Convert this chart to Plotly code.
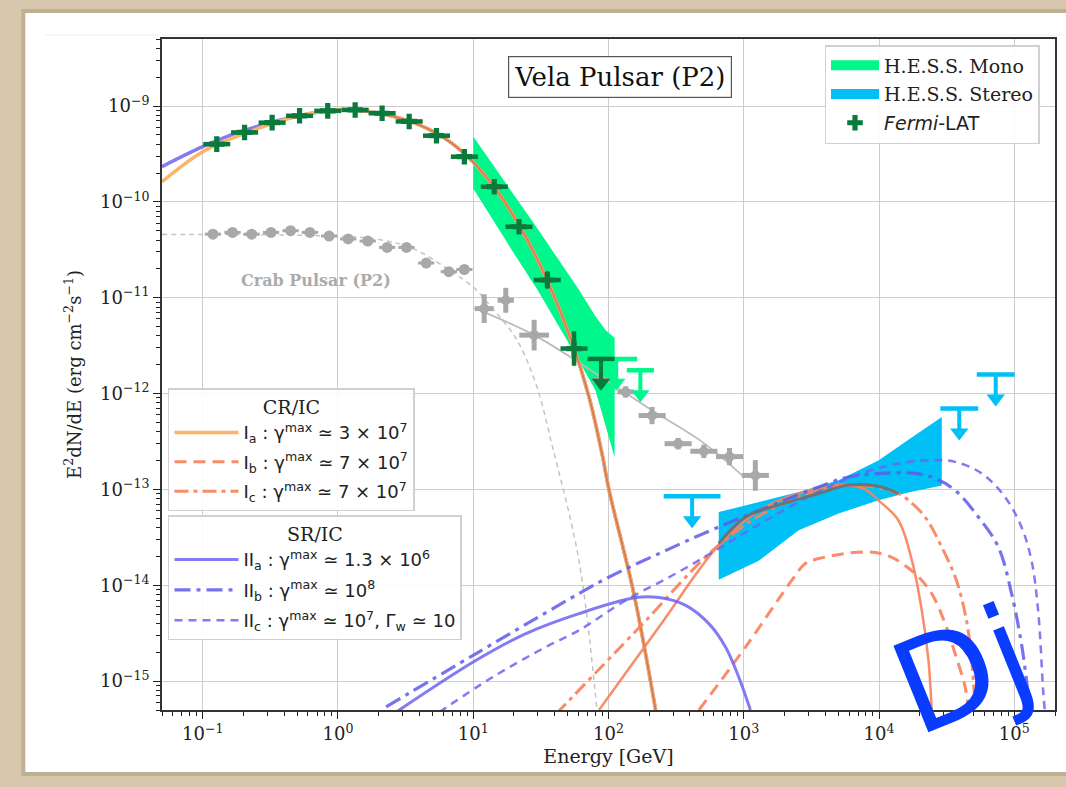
import numpy as np
import plotly.graph_objects as go

# ---------------- data ----------------
# Fermi-LAT Vela P2 points
fermi_E = [0.127, 0.204, 0.326, 0.52, 0.84, 1.34, 2.12, 3.36, 5.35, 8.6, 14.3, 21.8, 35.3, 55.6]
fermi_F = [4.0e-10, 5.3e-10, 6.7e-10, 7.9e-10, 8.9e-10, 9.1e-10, 8.4e-10, 6.9e-10, 4.9e-10,
           2.96e-10, 1.44e-10, 5.5e-11, 1.53e-11, 2.95e-12]
fermi_yerr_dex = [0.02, 0.02, 0.02, 0.02, 0.02, 0.02, 0.02, 0.02, 0.02, 0.02, 0.03, 0.04, 0.09, 0.18]
fermi_ul_E = [88.0]
fermi_ul_F = [2.3e-12]

# Crab pulsar P2 (grey)
crab_E = [0.119, 0.166, 0.23, 0.32, 0.446, 0.62, 0.86, 1.19, 1.66, 2.31, 3.21, 4.49, 6.6, 8.6]
crab_F = [4.6e-11, 4.8e-11, 4.6e-11, 4.8e-11, 5.0e-11, 4.8e-11, 4.4e-11, 4.1e-11, 3.9e-11,
          3.35e-11, 3.35e-11, 2.3e-11, 1.87e-11, 1.97e-11]
crab_vhe_E = [12.05, 17.4, 28.2, 87.5, 134, 210, 327, 507, 784, 1218]
crab_vhe_F = [7.7e-12, 9.4e-12, 4.07e-12, 1.38e-12, 1.04e-12, 5.9e-13, 3.0e-13, 2.5e-13, 2.2e-13, 1.4e-13]
crab_vhe_yerr_dex = [0.15, 0.13, 0.16, 0.05, 0.06, 0.09, 0.06, 0.07, 0.09, 0.16]
crab_vhe_xerr_dex = [0.07, 0.06, 0.11, 0.06, 0.06, 0.1, 0.1, 0.1, 0.1, 0.1]
crab_fit_E = [10.2, 28.2, 87.5, 209, 507, 1000]
crab_fit_F = [7.8e-12, 4.07e-12, 1.5e-12, 6.7e-13, 3.04e-13, 1.35e-13]
crab_model_E = [0.05, 0.86, 1.98, 3.56, 6.65, 10.2, 13.1, 20.6, 29, 38.5, 60.5, 82]
crab_model_F = [4.58e-11, 4.4e-11, 4.06e-11, 3.27e-11, 1.94e-11, 1.26e-11, 8.5e-12, 3.8e-12,
                1.27e-12, 2.8e-13, 1.8e-14, 5e-16]

# H.E.S.S. butterflies
mono_E = [10, 20, 30, 60, 80, 95, 111]
mono_hi = [4.8e-10, 1.2e-10, 5.2e-11, 1.23e-11, 6.4e-12, 4.6e-12, 3.8e-12]
mono_lo = [1.38e-10, 2.9e-11, 1.2e-11, 2.24e-12, 1.08e-12, 4.7e-13, 2.17e-13]
stereo_E = [653, 1291, 2550, 5020, 9900, 16500, 29100]
stereo_hi = [5.8e-14, 7.4e-14, 9.4e-14, 1.25e-13, 2.0e-13, 3.3e-13, 5.7e-13]
stereo_lo = [1.14e-14, 1.8e-14, 3.75e-14, 5.6e-14, 7.7e-14, 9.3e-14, 1.1e-13]
mono_ul_E = [114, 172]
mono_ul_F = [2.3e-12, 1.75e-12]
stereo_ul_E = [415, 39200, 72900]
stereo_ul_F = [8.5e-14, 6.98e-13, 1.58e-12]

# Models: GeV (curvature) component, shared shape at high energy
gev_E = [0.05, 0.1, 0.19, 0.516, 1.107, 2.65, 5.36, 8.84, 13.9, 21.8, 34.3, 54.1, 71.8, 90, 101, 154, 223]
Ia_gev_F = [1.62e-10, 3.33e-10, 4.97e-10, 7.9e-10, 9.2e-10, 7.7e-10, 5.19e-10, 3.08e-10, 1.50e-10,
            5.73e-11, 1.65e-11, 3.33e-12, 9.2e-13, 2.28e-13, 9.8e-14, 8.2e-15, 5e-16]
IIa_gev_F = [2.33e-10, 3.76e-10, 5.4e-10, 7.9e-10, 9.2e-10, 7.7e-10, 5.19e-10, 3.08e-10, 1.50e-10,
             5.73e-11, 1.65e-11, 3.33e-12, 9.2e-13, 2.28e-13, 9.8e-14, 8.2e-15, 5e-16]

# Models: TeV components
Ia_tev_E = [85.1, 236, 653, 1290, 2550, 5310, 7900, 9900, 13900, 17500, 20700, 23200, 24500]
Ia_tev_F = [5e-16, 3.67e-15, 2.62e-14, 6.0e-14, 9.06e-14, 1.11e-13, 1.0e-13, 7.7e-14, 4.77e-14,
            1.82e-14, 5.5e-15, 1.65e-15, 5e-16]
Ib_tev_E = [466, 1030, 2270, 2850, 3580, 7910, 12000, 18500, 24500, 30800, 36500, 43300, 45800]
Ib_tev_F = [5e-16, 2.27e-15, 1.13e-14, 1.69e-14, 1.90e-14, 2.23e-14, 2.0e-14, 1.32e-14, 8.2e-15,
            4.0e-15, 1.94e-15, 8.7e-16, 5e-16]
Ic_tev_E = [40.7, 168, 653, 1810, 5960, 13900, 16500, 21900, 29100, 37300, 44300, 48400, 51500]
Ic_tev_F = [4.5e-16, 3.6e-15, 2.62e-14, 6.8e-14, 1.11e-13, 9.06e-14, 7.7e-14, 5.16e-14, 2.5e-14,
            1.13e-14, 4.3e-15, 1.65e-15, 5e-16]
IIa_tev_E = [2.69, 10.5, 24.5, 60.5, 159, 236, 372, 552, 733, 919, 1120]
IIa_tev_F = [4.75e-16, 1.65e-15, 3.13e-15, 5.06e-15, 7.44e-15, 7.44e-15, 6.18e-15, 3.98e-15,
             2.27e-15, 1.1e-15, 5e-16]
IIb_tev_E = [2.27, 10.5, 60.5, 101, 236, 653, 3580, 5960, 10500, 18500, 26000, 36500, 54200,
             76200, 95500, 113000, 127000, 133000]
IIb_tev_F = [5.4e-16, 1.94e-15, 8.2e-15, 1.22e-14, 2.14e-14, 4.06e-14, 1.06e-13, 1.35e-13, 1.47e-13,
             1.47e-13, 1.3e-13, 9.8e-14, 5.16e-14, 2.51e-14, 8.2e-15, 2.46e-15, 7.4e-16, 5e-16]
IIc_tev_E = [5.61, 13.9, 34.4, 60.5, 134, 313, 653, 1290, 3580, 7910, 13900, 24500, 36500, 57400,
             85300, 113000, 134000, 150000, 164000, 168000]
IIc_tev_F = [4.75e-16, 1.1e-15, 2.27e-15, 3.39e-15, 6.97e-15, 1.32e-14, 2.42e-14, 4.3e-14, 9.5e-14,
             1.52e-13, 1.86e-13, 2.02e-13, 1.94e-13, 1.47e-13, 8.35e-14, 4.06e-14, 1.82e-14,
             5.5e-15, 7.4e-16, 5e-16]
# grey combined curve inside the stereo butterfly
grey_E = [653, 1030, 1620, 3580, 5960, 9910, 13900]
grey_F = [2.73e-14, 5.16e-14, 6.57e-14, 9.06e-14, 1.11e-13, 1.08e-13, 9.06e-14]

# axis ticks
x_tick_exp = [-1, 0, 1, 2, 3, 4, 5]
y_tick_exp = [-15, -14, -13, -12, -11, -10, -9]

# legend labels
lab_Ia = "I<sub>a</sub> : γ<sup>max</sup> ≃ 3 × 10<sup>7</sup>"
lab_Ib = "I<sub>b</sub> : γ<sup>max</sup> ≃ 7 × 10<sup>7</sup>"
lab_Ic = "I<sub>c</sub> : γ<sup>max</sup> ≃ 7 × 10<sup>7</sup>"
lab_IIa = "II<sub>a</sub> : γ<sup>max</sup> ≃ 1.3 × 10<sup>6</sup>"
lab_IIb = "II<sub>b</sub> : γ<sup>max</sup> ≃ 10<sup>8</sup>"
lab_IIc = "II<sub>c</sub> : γ<sup>max</sup> ≃ 10<sup>7</sup>, Γ<sub>w</sub> ≃ 10"

# ---------------- styling ----------------
W, H = 1066, 787
ML, MR, MT, MB = 162, 9, 39, 77
PW, PH = W - ML - MR, H - MT - MB


def pxx(px):
    return (px - ML) / PW


def pxy(py):
    return (H - MB - py) / PH


def pow_label(n):
    return "10<sup>" + str(n).replace("-", "−") + "</sup>"


SERIF = "DejaVu Serif"
SANS = "DejaVu Sans"
C_MONO = "#00f78c"
C_STEREO = "#00c0f5"
C_FERMI = "#0a7a3c"
C_GREY = "#a8a8a8"
C_ORANGE = "#ffb366"
C_CORAL = "rgba(248,130,92,0.92)"
C_BROWN = "rgba(200,110,70,0.75)"
C_BLUE = "rgba(108,100,240,0.85)"
C_BLUE2 = "rgba(95,90,235,0.85)"


def err(vals, dex):
    v = np.asarray(vals, float)
    d = np.asarray(dex, float)
    return v * (10 ** d - 1), v * (1 - 10 ** (-d))


fig = go.Figure()

# butterflies
fig.add_trace(go.Scatter(x=mono_E + mono_E[::-1], y=mono_hi + mono_lo[::-1], fill="toself",
                         fillcolor=C_MONO, line=dict(width=0, color=C_MONO), mode="lines",
                         showlegend=False, hoverinfo="skip"))
fig.add_trace(go.Scatter(x=stereo_E + stereo_E[::-1], y=stereo_hi + stereo_lo[::-1], fill="toself",
                         fillcolor=C_STEREO, line=dict(width=0, color=C_STEREO), mode="lines",
                         showlegend=False, hoverinfo="skip"))
# legend swatches for the butterflies
fig.add_trace(go.Scatter(x=[None], y=[None], mode="lines", line=dict(color=C_MONO, width=14),
                         name="H.E.S.S. Mono", legend="legend", legendrank=1, legendgroup="m"))
fig.add_trace(go.Scatter(x=[None], y=[None], mode="lines", line=dict(color=C_STEREO, width=14),
                         name="H.E.S.S. Stereo", legend="legend", legendrank=2, legendgroup="s"))

# Crab lines
fig.add_trace(go.Scatter(x=crab_model_E, y=crab_model_F, mode="lines", line_shape="spline",
                         line=dict(color="#c4c4c4", width=1.5, dash="5px,4px"), showlegend=False))
fig.add_trace(go.Scatter(x=crab_fit_E, y=crab_fit_F, mode="lines", line_shape="spline",
                         line=dict(color="#bcbcbc", width=1.8), showlegend=False))

# Crab points
p, m = err(crab_E, [0.06] * len(crab_E))
fig.add_trace(go.Scatter(x=crab_E, y=crab_F, mode="markers",
                         marker=dict(symbol="circle", size=11, color=C_GREY),
                         error_x=dict(type="data", symmetric=False, array=p, arrayminus=m,
                                      color=C_GREY, thickness=3, width=0),
                         showlegend=False))
px_, mx_ = err(crab_vhe_E, crab_vhe_xerr_dex)
py_, my_ = err(crab_vhe_F, crab_vhe_yerr_dex)
fig.add_trace(go.Scatter(x=crab_vhe_E, y=crab_vhe_F, mode="markers",
                         marker=dict(symbol="circle", size=10, color=C_GREY),
                         error_x=dict(type="data", symmetric=False, array=px_, arrayminus=mx_,
                                      color=C_GREY, thickness=5, width=0),
                         error_y=dict(type="data", symmetric=False, array=py_, arrayminus=my_,
                                      color=C_GREY, thickness=5, width=0),
                         showlegend=False))

# GeV component of the SR/IC model (drawn underneath)
fig.add_trace(go.Scatter(x=gev_E, y=IIa_gev_F, mode="lines", line_shape="spline",
                         line=dict(color=C_BLUE, width=3.5), showlegend=False))

# Model curves: CR/IC (legend2)
fig.add_trace(go.Scatter(x=gev_E, y=Ia_gev_F, mode="lines", line_shape="spline",
                         line=dict(color=C_ORANGE, width=3.5), name=lab_Ia,
                         legend="legend2", legendrank=1, legendgroup="Ia"))
fig.add_trace(go.Scatter(x=gev_E[4:], y=Ia_gev_F[4:], mode="lines", line_shape="spline",
                         line=dict(color=C_BROWN, width=2), showlegend=False))
fig.add_trace(go.Scatter(x=Ia_tev_E, y=Ia_tev_F, mode="lines", line_shape="spline",
                         line=dict(color=C_CORAL, width=2.5), showlegend=False))
fig.add_trace(go.Scatter(x=Ib_tev_E, y=Ib_tev_F, mode="lines", line_shape="spline",
                         line=dict(color=C_CORAL, width=3, dash="12px,7px"), name=lab_Ib,
                         legend="legend2", legendrank=2, legendgroup="Ib"))
fig.add_trace(go.Scatter(x=Ic_tev_E, y=Ic_tev_F, mode="lines", line_shape="spline",
                         line=dict(color=C_CORAL, width=3, dash="14px,5px,4px,5px"), name=lab_Ic,
                         legend="legend2", legendrank=3, legendgroup="Ic"))

# Model curves: SR/IC (legend3)
fig.add_trace(go.Scatter(x=IIa_tev_E, y=IIa_tev_F, mode="lines", line_shape="spline",
                         line=dict(color=C_BLUE, width=3), name=lab_IIa,
                         legend="legend3", legendrank=1, legendgroup="IIa"))
fig.add_trace(go.Scatter(x=IIb_tev_E, y=IIb_tev_F, mode="lines", line_shape="spline",
                         line=dict(color=C_BLUE2, width=3.2, dash="16px,6px,4px,6px"), name=lab_IIb,
                         legend="legend3", legendrank=2, legendgroup="IIb"))
fig.add_trace(go.Scatter(x=IIc_tev_E, y=IIc_tev_F, mode="lines", line_shape="spline",
                         line=dict(color=C_BLUE, width=2.5, dash="8px,6px"), name=lab_IIc,
                         legend="legend3", legendrank=3, legendgroup="IIc"))

# grey combined curve
fig.add_trace(go.Scatter(x=grey_E, y=grey_F, mode="lines", line_shape="spline",
                         line=dict(color="rgba(110,110,110,0.9)", width=3), showlegend=False))

# Fermi points
fp, fm = err(fermi_E, [0.1] * len(fermi_E))
fyp, fym = err(fermi_F, fermi_yerr_dex)
fig.add_trace(go.Scatter(x=fermi_E, y=fermi_F, mode="markers",
                         marker=dict(symbol="cross", size=13, color=C_FERMI),
                         error_x=dict(type="data", symmetric=False, array=fp, arrayminus=fm,
                                      color=C_FERMI, thickness=4.5, width=0),
                         error_y=dict(type="data", symmetric=False, array=fyp, arrayminus=fym,
                                      color=C_FERMI, thickness=4.5, width=0),
                         name="<span style='font-family:DejaVu Sans'><i>Fermi</i>-LAT</span>",
                         legend="legend", legendrank=3, legendgroup="f"))


# upper limits
def add_ul(E, F, hw, color):
    cx, cy, sx, sy, tx, ty = [], [], [], [], [], []
    for e, f, h in zip(E, F, hw):
        cx += [e * 10 ** (-h), e * 10 ** h, None]
        cy += [f, f, None]
        sx += [e, e, None]
        sy += [f, f * 10 ** (-0.25), None]
        tx.append(e)
        ty.append(f * 10 ** (-0.25))
    fig.add_trace(go.Scatter(x=cx, y=cy, mode="lines", line=dict(color=color, width=4.5),
                             showlegend=False, hoverinfo="skip"))
    fig.add_trace(go.Scatter(x=sx, y=sy, mode="lines", line=dict(color=color, width=4),
                             showlegend=False, hoverinfo="skip"))
    fig.add_trace(go.Scatter(x=tx, y=ty, mode="markers",
                             marker=dict(symbol="triangle-down", size=16, color=color),
                             showlegend=False, hoverinfo="skip"))


add_ul(mono_ul_E, mono_ul_F, [0.155, 0.1], C_MONO)
add_ul(fermi_ul_E, fermi_ul_F, [0.1], C_FERMI)
add_ul(stereo_ul_E, stereo_ul_F, [0.21, 0.14, 0.14], C_STEREO)

# ---------------- layout ----------------
minor_x = [k * 10.0 ** n for n in range(-2, 6) for k in range(2, 10)]
minor_y = [k * 10.0 ** n for n in range(-16, -7) for k in range(2, 10)]

axis_common = dict(
    type="log", tickmode="array",
    showgrid=True, gridcolor="#cdcdcd", gridwidth=1.2,
    ticks="outside", ticklen=7, tickwidth=1.2, tickcolor="#222",
    showline=True, linecolor="#333", linewidth=1.6, mirror=True,
    tickfont=dict(family=SERIF, size=18, color="#222"), zeroline=False,
)

legend_box = dict(xanchor="left", yanchor="top", bgcolor="rgba(255,255,255,0.9)",
                  bordercolor="#d0d0d0", borderwidth=1.5, traceorder="grouped")

fig.update_layout(
    width=W, height=H,
    margin=dict(l=ML, r=MR, t=MT, b=MB, pad=0),
    paper_bgcolor="#d6c7ad",
    plot_bgcolor="white",
    font=dict(family=SERIF, color="#222"),
    xaxis=dict(axis_common, range=[np.log10(0.05), np.log10(2e5)],
               tickvals=[10.0 ** n for n in x_tick_exp],
               ticktext=[pow_label(n) for n in x_tick_exp],
               minor=dict(tickvals=minor_x, ticks="outside", ticklen=4, tickcolor="#222",
                          tickwidth=1, showgrid=False),
               title=dict(text="Energy [GeV]", font=dict(family=SERIF, size=19), standoff=6)),
    yaxis=dict(axis_common, range=[np.log10(5e-16), np.log10(5e-9)],
               tickvals=[10.0 ** n for n in y_tick_exp],
               ticktext=[pow_label(n) for n in y_tick_exp],
               minor=dict(tickvals=minor_y, ticks="outside", ticklen=4, tickcolor="#222",
                          tickwidth=1, showgrid=False),
               title=dict(text="E<sup>2</sup>dN/dE (erg cm<sup>−2</sup>s<sup>−1</sup>)",
                          font=dict(family=SERIF, size=18), standoff=14)),
    legend=dict(legend_box, x=pxx(826), y=pxy(45), tracegroupgap=1,
                font=dict(family=SERIF, size=19, color="#222"), itemwidth=48),
    legend2=dict(legend_box, x=pxx(168), y=pxy(388), tracegroupgap=3,
                 font=dict(family=SANS, size=18, color="#222"), itemwidth=64,
                 title=dict(text="CR/IC", side="top center", font=dict(family=SERIF, size=19))),
    legend3=dict(legend_box, x=pxx(168), y=pxy(515), tracegroupgap=4,
                 font=dict(family=SANS, size=18, color="#222"), itemwidth=64,
                 title=dict(text="SR/IC", side="top center", font=dict(family=SERIF, size=19))),
    shapes=[
        dict(type="rect", xref="paper", yref="paper", x0=pxx(21), x1=pxx(1080), y0=pxy(776),
             y1=pxy(9), fillcolor="rgba(90,70,40,0.18)", line=dict(width=0), layer="below"),
        dict(type="rect", xref="paper", yref="paper", x0=pxx(25), x1=pxx(1080), y0=pxy(772),
             y1=pxy(13), fillcolor="white", line=dict(width=0), layer="below"),
        dict(type="line", xref="paper", yref="paper", x0=pxx(45), x1=pxx(1066), y0=pxy(35),
             y1=pxy(35), line=dict(color="#eeeeee", width=1), layer="below"),
    ],
    annotations=[
        dict(text="Vela Pulsar (P2)", xref="paper", yref="paper", x=pxx(621), y=pxy(77),
             xanchor="center", yanchor="middle", showarrow=False,
             font=dict(family=SERIF, size=26, color="#111"),
             bordercolor="#555", borderwidth=1.2, borderpad=5, bgcolor="white"),
        dict(text="<b>Crab Pulsar (P2)</b>", xref="paper", yref="paper", x=pxx(316), y=pxy(280),
             xanchor="center", yanchor="middle", showarrow=False,
             font=dict(family=SERIF, size=16, color="#ababab")),
        dict(text="Dj", xref="paper", yref="paper", x=pxx(964), y=pxy(670),
             xanchor="center", yanchor="middle", showarrow=False, textangle=-22,
             font=dict(family=SANS, size=128, color="#0a3cff")),
    ],
)

fig.write_html("out.html", config={"displayModeBar": False})
